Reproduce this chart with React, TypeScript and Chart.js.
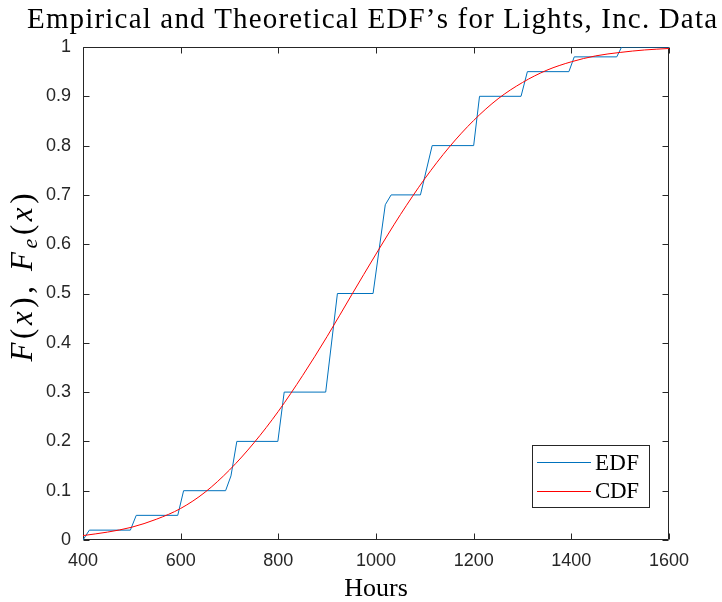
import React, { useEffect, useRef } from "react";
import { Chart, registerables } from "chart.js";

Chart.register(...registerables);

// Empirical distribution (vertices of the plotted EDF line)
const edfHours = [400, 413, 497, 509, 594, 606, 692, 703, 715, 799, 812, 897, 921, 994, 1019, 1031, 1091, 1115, 1200, 1212, 1297, 1310, 1395, 1406, 1493, 1503, 1600];
const edfValues = [0, 0.02, 0.02, 0.05, 0.05, 0.1, 0.1, 0.13, 0.2, 0.2, 0.3, 0.3, 0.5, 0.5, 0.68, 0.7, 0.7, 0.8, 0.8, 0.9, 0.9, 0.95, 0.95, 0.98, 0.98, 1.0, 1.0];

// Theoretical CDF
const cdfHours = [400, 450, 500, 550, 600, 650, 700, 750, 800, 850, 900, 950, 1000, 1050, 1100, 1150, 1200, 1250, 1300, 1350, 1400, 1450, 1500, 1550, 1600];
const cdfValues = [0.009, 0.016, 0.026, 0.042, 0.064, 0.097, 0.142, 0.197, 0.261, 0.334, 0.413, 0.497, 0.58, 0.66, 0.733, 0.797, 0.851, 0.895, 0.928, 0.953, 0.97, 0.982, 0.989, 0.994, 0.997];

const xTickLabels = ["400", "600", "800", "1000", "1200", "1400", "1600"];
const yTickLabels = ["0", "0.1", "0.2", "0.3", "0.4", "0.5", "0.6", "0.7", "0.8", "0.9", "1"];

const titleText = "Empirical and Theoretical EDF\u2019s for Lights, Inc. Data";
const xTitleText = "Hours";
const seriesNames = ["EDF", "CDF"];
const seriesColors = ["#0072BD", "#FF0000"];

const AXIS = "#262626";
const SERIF = "'Liberation Serif', 'DejaVu Serif', serif";
const SANS = "'Liberation Sans', Arial, sans-serif";

type Seg = { s: string; font: string; dy: number };

// draws a run of text pieces, stretched with extra letter spacing to a target width
function drawSpaced(ctx: any, segs: Seg[], x0: number, y0: number, target: number) {
  let natural = 0;
  let count = 0;
  segs.forEach((g) => {
    ctx.font = g.font;
    for (const ch of g.s) {
      natural += ctx.measureText(ch).width;
      count++;
    }
  });
  const extra = count > 1 ? (target - natural) / (count - 1) : 0;
  let x = x0;
  segs.forEach((g) => {
    ctx.font = g.font;
    for (const ch of g.s) {
      ctx.fillText(ch, x, y0 + g.dy);
      x += ctx.measureText(ch).width + extra;
    }
  });
}

const framePlugin = {
  id: "frame",
  beforeDatasetsDraw(chart: any) {
    const { ctx, chartArea } = chart;
    const l = Math.round(chartArea.left) + 0.5;
    const r = Math.round(chartArea.right) - 0.5;
    const t = Math.round(chartArea.top) + 0.5;
    const b = Math.round(chartArea.bottom) - 0.5;
    ctx.save();
    ctx.strokeStyle = AXIS;
    ctx.lineWidth = 1;
    ctx.beginPath();
    ctx.rect(l, t, r - l, b - t);
    ctx.stroke();
    const len = 6;
    const xs = chart.scales.x;
    const ys = chart.scales.y;
    ctx.beginPath();
    xs.ticks.forEach((tk: any) => {
      const px = Math.round(xs.getPixelForValue(tk.value)) + 0.5;
      ctx.moveTo(px, b);
      ctx.lineTo(px, b - len);
      ctx.moveTo(px, t);
      ctx.lineTo(px, t + len);
    });
    ys.ticks.forEach((tk: any) => {
      const py = Math.round(ys.getPixelForValue(tk.value)) + 0.5;
      ctx.moveTo(l, py);
      ctx.lineTo(l + len, py);
      ctx.moveTo(r, py);
      ctx.lineTo(r - len, py);
    });
    ctx.stroke();
    ctx.restore();
  },
  afterDraw(chart: any) {
    const { ctx, chartArea } = chart;

    // title
    ctx.save();
    ctx.fillStyle = "#000";
    ctx.textBaseline = "alphabetic";
    ctx.textAlign = "left";
    drawSpaced(ctx, [{ s: titleText, font: `29px ${SERIF}`, dy: 0 }], 27, 28, 690);
    ctx.restore();

    // y-axis title with subscript: F(x), F_e(x)
    ctx.save();
    const size = 31;
    const it = `italic ${size}px ${SERIF}`;
    const up = `${size}px ${SERIF}`;
    const sub = `italic ${Math.round(size * 0.7)}px ${SERIF}`;
    const segs: Seg[] = [
      { s: "F", font: it, dy: 0 },
      { s: "(", font: up, dy: 0 },
      { s: "x", font: it, dy: 0 },
      { s: "), ", font: up, dy: 0 },
      { s: "F", font: it, dy: 0 },
      { s: "e", font: sub, dy: 5 },
      { s: "(", font: up, dy: 0 },
      { s: "x", font: it, dy: 0 },
      { s: ")", font: up, dy: 0 },
    ];
    const cy = (chartArea.top + chartArea.bottom) / 2 - 16;
    ctx.translate(32, cy);
    ctx.rotate(-Math.PI / 2);
    ctx.fillStyle = "#000";
    ctx.textBaseline = "alphabetic";
    ctx.textAlign = "left";
    drawSpaced(ctx, segs, -84, 0, 168);
    ctx.restore();

    // legend box at lower right
    ctx.save();
    const bx = 532.5, by = 445.5, bw = 117, bh = 62;
    ctx.fillStyle = "#fff";
    ctx.fillRect(bx, by, bw, bh);
    ctx.strokeStyle = AXIS;
    ctx.lineWidth = 1;
    ctx.strokeRect(bx, by, bw, bh);
    ctx.textBaseline = "alphabetic";
    ctx.textAlign = "left";
    chart.data.datasets.forEach((ds: any, i: number) => {
      const yy = 462 + i * 28.5;
      ctx.strokeStyle = ds.borderColor;
      ctx.beginPath();
      ctx.moveTo(537, Math.round(yy) + 0.5);
      ctx.lineTo(591, Math.round(yy) + 0.5);
      ctx.stroke();
      ctx.fillStyle = "#000";
      drawSpaced(ctx, [{ s: ds.label, font: `23px ${SERIF}`, dy: 0 }], 595, yy + 7.5, 44);
    });
    ctx.restore();
  },
};

export default function App() {
  const ref = useRef<HTMLCanvasElement | null>(null);
  useEffect(() => {
    if (!ref.current) return;
    const chart = new Chart(ref.current, {
      type: "line",
      data: {
        datasets: [
          {
            label: seriesNames[0],
            data: edfHours.map((h, i) => ({ x: h, y: edfValues[i] })),
            borderColor: seriesColors[0],
            borderWidth: 1,
            pointRadius: 0,
            fill: false,
            tension: 0,
            order: 1,
          },
          {
            label: seriesNames[1],
            data: cdfHours.map((h, i) => ({ x: h, y: cdfValues[i] })),
            borderColor: seriesColors[1],
            borderWidth: 1,
            pointRadius: 0,
            fill: false,
            cubicInterpolationMode: "monotone",
            order: 0,
          },
        ],
      },
      options: {
        animation: false,
        responsive: true,
        maintainAspectRatio: false,
        layout: { padding: { left: 0, right: 53, top: 47, bottom: 0 } },
        plugins: {
          legend: { display: false },
          tooltip: { enabled: false },
          title: { display: false },
        },
        scales: {
          x: {
            type: "linear",
            min: 400,
            max: 1600,
            afterBuildTicks: (s: any) => {
              s.ticks = xTickLabels.map((t) => ({ value: parseFloat(t) }));
            },
            ticks: {
              color: AXIS,
              font: { family: SANS, size: 18 },
              padding: 10,
              maxRotation: 0,
              autoSkip: false,
              callback: (_v: any, i: number) => xTickLabels[i],
            },
            grid: { display: false, drawTicks: false },
            border: { display: false },
            title: {
              display: true,
              text: xTitleText,
              color: "#000",
              font: { family: SERIF, size: 26, lineHeight: 1.0 },
              padding: { top: 0, bottom: 0 },
            },
            afterFit: (s: any) => {
              s.height = 62;
            },
          },
          y: {
            type: "linear",
            min: 0,
            max: 1,
            afterBuildTicks: (s: any) => {
              s.ticks = yTickLabels.map((t) => ({ value: parseFloat(t) }));
            },
            ticks: {
              color: AXIS,
              font: { family: SANS, size: 18 },
              padding: 12,
              autoSkip: false,
              callback: (_v: any, i: number) => yTickLabels[i],
            },
            grid: { display: false, drawTicks: false },
            border: { display: false },
            afterFit: (s: any) => {
              s.width = 83;
            },
          },
        },
      },
      plugins: [framePlugin],
    } as any);
    return () => chart.destroy();
  }, []);
  return (
    <div style={{ position: "absolute", left: 0, top: 0, width: 722, height: 602, background: "#fff" }}>
      <canvas ref={ref} />
    </div>
  );
}
